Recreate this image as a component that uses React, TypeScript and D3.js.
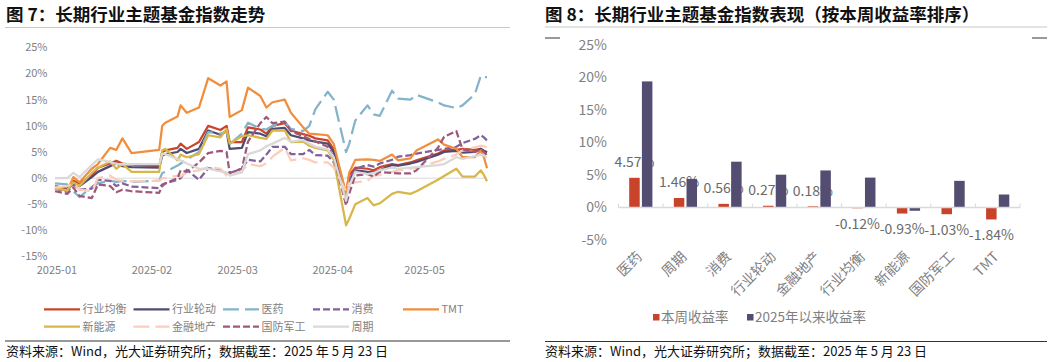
import React from "react";
import * as d3 from "d3";

// ---------- Left chart data (cumulative return %) ----------
const dates = [
  "2025-01-02","2025-01-06","2025-01-08","2025-01-10","2025-01-14","2025-01-16","2025-01-20","2025-01-22","2025-01-24","2025-01-27",
  "2025-02-05","2025-02-06","2025-02-07","2025-02-11","2025-02-12","2025-02-14","2025-02-18","2025-02-21","2025-02-25","2025-02-27",
  "2025-02-28","2025-03-04","2025-03-06","2025-03-10","2025-03-12","2025-03-14","2025-03-18","2025-03-20","2025-03-24","2025-03-26",
  "2025-03-28","2025-04-01","2025-04-03","2025-04-07","2025-04-08","2025-04-10","2025-04-14","2025-04-16","2025-04-18","2025-04-22",
  "2025-04-24","2025-04-28","2025-04-30","2025-05-07","2025-05-09","2025-05-13","2025-05-15","2025-05-19","2025-05-21","2025-05-22",
  "2025-05-23",
];

const hyJunheng = [-1.5,-2.0,-0.5,-1.0,0.5,2.0,2.8,3.3,2.8,2.6, 2.3,5.0,5.3,5.8,6.6,5.6,6.9,10.0,9.2,10.0, 6.9,6.9,9.7,9.3,8.5,10.0,10.5,9.1,8.4,8.1, 7.6,7.2,5.5,-3.0,0.5,2.0,1.8,1.5,2.1,2.7, 2.5,3.0,3.4,4.7,5.3,5.4,5.6,5.4,5.6,5.2, 4.9];
const hyLundong = [-2.0,-2.2,-1.0,-1.5,0.2,1.2,2.3,2.8,2.3,2.1, 2.0,4.3,4.6,5.0,5.6,4.8,5.6,9.1,8.3,9.0, 5.6,5.8,8.8,8.5,8.0,9.4,9.6,8.2,7.6,7.2, 7.0,6.6,5.0,-3.9,-0.5,1.5,1.2,1.1,1.5,2.5, 2.4,2.8,3.1,4.5,5.0,5.2,4.9,5.0,5.6,5.2, 5.0];
const yiyao = [-1.0,-1.2,-2.5,-3.6,-1.7,-1.0,-0.5,-0.7,-0.5,-0.7, -0.5,1.0,1.2,2.4,2.8,3.5,5.0,8.8,8.5,9.0, 6.5,8.5,10.6,9.5,9.3,10.0,10.8,9.4,9.0,10.0, 13.2,16.5,15.0,5.0,6.5,11.0,13.9,12.2,11.9,16.7, 15.2,15.0,15.9,14.5,13.9,13.4,13.9,16.0,19.6,19.3, 19.3];
const xiaofei = [-2.0,-2.6,-1.2,-2.2,-2.0,-0.3,-0.5,-1.5,-1.0,-1.6, -1.9,-1.2,-1.0,-0.3,0.0,1.6,-0.3,1.9,1.6,0.9, 0.9,1.9,3.5,3.2,4.5,6.0,6.0,4.6,4.6,5.4, 4.4,4.3,3.0,-3.5,-1.0,1.8,2.5,2.2,2.8,3.5, 4.1,4.4,4.7,5.4,5.6,6.0,6.7,7.5,8.2,7.8, 7.2];
const tmt = [-1.7,-2.5,0.2,-0.8,1.8,2.7,5.8,5.4,7.6,4.8, 5.4,10.0,10.6,11.8,13.9,12.5,13.5,19.1,17.7,18.5, 11.7,13.0,17.3,15.7,13.5,14.5,15.0,12.5,9.7,8.5, 8.4,8.2,6.5,-3.0,1.0,3.5,3.6,3.5,3.3,4.5, 3.4,3.8,5.3,7.4,6.4,5.6,4.0,4.0,5.3,4.0, 1.9];
const xinnengyuan = [-2.0,-2.3,-0.8,-1.5,1.0,2.0,3.2,1.8,2.7,1.2, 1.2,5.3,5.6,3.4,4.5,4.0,4.6,8.2,7.8,9.4, 6.6,8.0,8.2,7.7,7.5,9.1,9.1,6.9,7.0,6.2, 5.8,5.3,3.5,-9.0,-7.8,-5.0,-3.8,-5.2,-4.8,-3.0, -2.6,-3.0,-2.5,-0.3,0.4,1.8,0.3,0.3,1.5,0.6, -0.6];
const jinrongdichan = [-1.8,-1.5,-1.0,-2.2,-2.5,0.0,0.5,-0.3,-0.5,-0.6, -0.5,0.0,0.0,0.5,0.3,1.1,1.5,2.1,1.8,0.5, 0.5,1.3,2.7,2.3,2.8,4.1,5.8,3.4,3.8,3.5, 3.0,3.0,2.0,-2.5,-1.0,-0.8,-0.5,0.5,0.6,1.2, 1.5,1.8,2.0,3.2,3.7,4.5,5.3,5.9,6.2,6.1, 5.9];
const guofangjungong = [-2.5,-3.0,-1.8,-3.4,-3.8,-1.2,-1.5,-2.7,-2.2,-2.5, -2.8,-1.5,-1.0,0.0,1.5,1.2,3.0,4.8,5.2,5.0, 1.0,1.8,7.0,10.5,11.7,10.5,10.8,9.0,8.0,7.5, 7.0,6.0,4.0,-5.2,-3.0,0.5,0.8,0.3,1.2,1.0, 0.9,0.9,1.5,5.8,7.9,9.0,5.5,5.0,5.5,5.0, 4.3];
const zhouqi = [0.0,0.0,1.0,0.2,2.5,3.6,3.1,2.7,2.7,2.7, 2.7,4.6,4.6,3.6,3.4,2.8,1.8,1.8,1.3,1.1, 0.5,1.1,4.6,5.3,6.1,6.6,7.7,7.0,7.3,6.6, 6.0,5.5,4.0,-4.3,-1.5,1.2,0.8,1.0,1.5,2.0, 1.8,2.0,2.1,2.5,2.7,4.0,3.7,4.2,4.5,4.3, 4.0];

const lineNames = ["行业均衡","行业轮动","医药","消费","TMT","新能源","金融地产","国防军工","周期"];
const lineValues = [hyJunheng, hyLundong, yiyao, xiaofei, tmt, xinnengyuan, jinrongdichan, guofangjungong, zhouqi];
const lineColors = ["#C9462C","#514B72","#84B3CB","#82609A","#F28E3B","#D8B64A","#FBCDBA","#A0587A","#D9D9D9"];
const lineDashes = [null, null, "16,6", "7,3", null, null, "16,6", "7,3", null];

const lineYTicks = [25, 20, 15, 10, 5, 0, -5, -10, -15];
const monthTicks = ["2025-01-01","2025-02-01","2025-03-01","2025-04-01","2025-05-01"];

// ---------- Right chart data ----------
const barCategories = ["医药","周期","消费","行业轮动","金融地产","行业均衡","新能源","国防军工","TMT"];
const weekReturn = [4.57, 1.46, 0.56, 0.27, 0.18, -0.12, -0.93, -1.03, -1.84];
const ytdReturn = [19.4, 4.4, 7.05, 5.05, 5.7, 4.6, -0.5, 4.1, 2.0];
const barYTicks = [25, 20, 15, 10, 5, 0, -5];
const barLegend = ["本周收益率", "2025年以来收益率"];
const barColors = ["#C8432A", "#534D72"];

const FONT = "'Noto Sans CJK SC', 'Noto Sans', sans-serif";
const GRAY = "#7F7F7F";

export default function App() {
  const parse = d3.timeParse("%Y-%m-%d");
  const dts = dates.map((d) => parse(d) as Date);

  // left chart scales
  const xL = d3.scaleTime().domain([dts[0], dts[dts.length - 1]]).range([55, 487]);
  const yL = d3.scaleLinear().domain([-15, 25]).range([256.7, 47.3]);
  const lineGen = d3
    .line<number>()
    .x((_, i) => xL(dts[i]))
    .y((v) => yL(v));

  // right chart scales
  const xB = d3.scaleBand<string>().domain(barCategories).range([618.5, 1020]).padding(0);
  const yB = d3.scaleLinear().domain([-5, 25]).range([240, 45]);
  const bw = 10.5;
  const gap = 2.2;

  const legendCols = [44, 133.5, 223, 313, 403];
  const legendRows = [309.3, 326.7];

  return (
    <svg
      width={1055}
      height={362}
      style={{ position: "absolute", left: 0, top: 0, background: "#fff" }}
      fontFamily={FONT}
    >
      <rect x={0} y={0} width={1055} height={362} fill="#fff" />

      {/* ===== Left panel ===== */}
      <text x={6} y={20.5} fontSize={17.5} fontWeight="bold" fill="#111">
        图 7：长期行业主题基金指数走势
      </text>
      <line x1={5} x2={510} y1={27.5} y2={27.5} stroke="#C8C8C8" strokeWidth={1} />

      {lineYTicks.map((t) => (
        <text key={t} x={47.5} y={yL(t) - (t === -15 ? 1 : 0)} dy="0.35em" textAnchor="end" fontSize={11} fill={GRAY}>
          {t}%
        </text>
      ))}
      {monthTicks.map((m) => {
        const d = parse(m) as Date;
        return (
          <text key={m} x={xL(d) + 5} y={274} textAnchor="middle" fontSize={11} fill={GRAY}>
            {d3.timeFormat("%Y-%m")(d)}
          </text>
        );
      })}
      <line x1={55} x2={487} y1={yL(0)} y2={yL(0)} stroke="#D9D9D9" strokeWidth={1} />

      {lineValues.map((vals, i) => (
        <path
          key={lineNames[i]}
          d={lineGen(vals) || ""}
          fill="none"
          stroke={lineColors[i]}
          strokeWidth={2.25}
          strokeLinejoin="round"
          strokeDasharray={lineDashes[i] || undefined}
        />
      ))}

      {lineNames.map((n, i) => {
        const col = i < 5 ? i : i - 5;
        const row = i < 5 ? 0 : 1;
        const x0 = legendCols[col];
        const y0 = legendRows[row];
        return (
          <g key={n}>
            <line
              x1={x0}
              x2={x0 + 36}
              y1={y0}
              y2={y0}
              stroke={lineColors[i]}
              strokeWidth={2.25}
              strokeDasharray={lineDashes[i] || undefined}
            />
            <text x={x0 + 38.5} y={y0} dy="0.36em" fontSize={11} fill={GRAY}>
              {n}
            </text>
          </g>
        );
      })}

      <line x1={5} x2={510} y1={341} y2={341} stroke="#333" strokeWidth={1} />
      <text x={6} y={355.5} fontSize={13} fill="#111">
        资料来源：Wind，光大证券研究所；数据截至：2025 年 5 月 23 日
      </text>

      {/* ===== Right panel ===== */}
      <text x={545} y={20.5} fontSize={17.5} fontWeight="bold" fill="#111">
        图 8：长期行业主题基金指数表现（按本周收益率排序）
      </text>
      <line x1={545} x2={1047} y1={27} y2={27} stroke="#C8C8C8" strokeWidth={1} />
      <line x1={545} x2={560} y1={38} y2={38} stroke="#333" strokeWidth={1} />
      <line x1={1032} x2={1047} y1={38} y2={38} stroke="#333" strokeWidth={1} />

      {barYTicks.map((t) => (
        <text key={t} x={607} y={yB(t)} dy="0.35em" textAnchor="end" fontSize={14} fill={GRAY}>
          {t}%
        </text>
      ))}

      {/* weekly bars */}
      {barCategories.map((c, i) => {
        const cx = (xB(c) as number) + xB.bandwidth() / 2;
        const v = weekReturn[i];
        const y0 = yB(Math.max(0, v));
        const h = Math.abs(yB(v) - yB(0));
        return <rect key={"w" + c} x={cx - gap / 2 - bw} y={y0} width={bw} height={h} fill={barColors[0]} />;
      })}
      {/* weekly labels (drawn under the YTD bars) */}
      {barCategories.map((c, i) => {
        const cx = (xB(c) as number) + xB.bandwidth() / 2 - gap / 2 - bw / 2;
        const v = weekReturn[i];
        const yc = v >= 0 ? yB(v) - 15.5 : yB(v) + 16;
        return (
          <text key={"l" + c} x={cx} y={yc} dy="0.35em" textAnchor="middle" fontSize={14} fill="#6A6A6A">
            {v.toFixed(2)}%
          </text>
        );
      })}
      {/* ytd bars */}
      {barCategories.map((c, i) => {
        const cx = (xB(c) as number) + xB.bandwidth() / 2;
        const v = ytdReturn[i];
        const y0 = yB(Math.max(0, v));
        const h = Math.abs(yB(v) - yB(0));
        return <rect key={"y" + c} x={cx + gap / 2} y={y0} width={bw} height={h} fill={barColors[1]} />;
      })}

      {/* category axis */}
      <line x1={618.5} x2={1020} y1={yB(0)} y2={yB(0)} stroke="#D9D9D9" strokeWidth={1.5} />
      {[...barCategories.map((c) => xB(c) as number), 1020].map((x, i) => (
        <line key={"t" + i} x1={x} x2={x} y1={yB(0) - 4} y2={yB(0)} stroke="#D9D9D9" strokeWidth={1} />
      ))}
      {barCategories.map((c) => {
        const cx = (xB(c) as number) + xB.bandwidth() / 2 + 2;
        return (
          <text
            key={"c" + c}
            transform={`translate(${cx},${yB(0) + 50})` + " rotate(-45)"}
            textAnchor="end"
            fontSize={14}
            fill={GRAY}
          >
            {c}
          </text>
        );
      })}

      {/* legend */}
      {barLegend.map((n, i) => {
        const x0 = i === 0 ? 653 : 747;
        return (
          <g key={n}>
            <rect x={x0} y={314} width={6.5} height={6.5} fill={barColors[i]} />
            <text x={x0 + 8} y={317.3} dy="0.36em" fontSize={13.5} fill={GRAY}>
              {n}
            </text>
          </g>
        );
      })}

      <line x1={545} x2={1047} y1={341.5} y2={341.5} stroke="#333" strokeWidth={1} />
      <text x={545} y={355.5} fontSize={13} fill="#111">
        资料来源：Wind，光大证券研究所；数据截至：2025 年 5 月 23 日
      </text>
    </svg>
  );
}
